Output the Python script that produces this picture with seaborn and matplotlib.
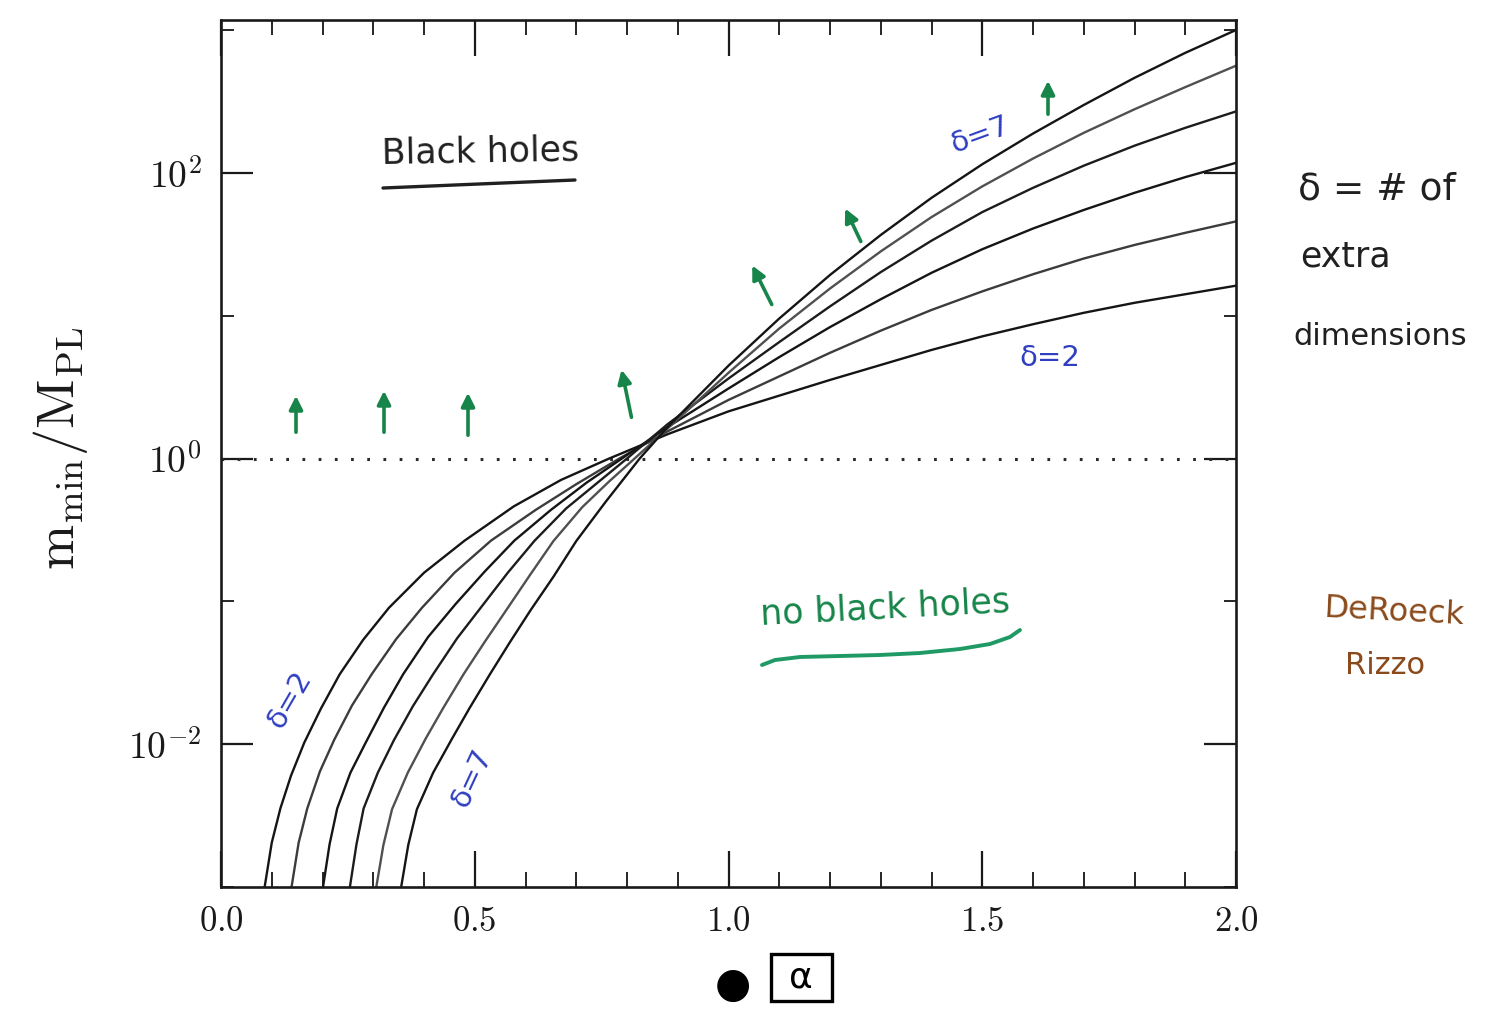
import matplotlib
matplotlib.use("Agg")
import matplotlib.pyplot as plt
import seaborn as sns
import pandas as pd
from matplotlib.patches import Rectangle
from matplotlib.ticker import FixedLocator, NullFormatter

# Minimum black-hole mass versus alpha, one curve per number of extra dimensions delta.
# Values are log10(m_min / M_PL).
alpha_d2 = [0.086, 0.100, 0.117, 0.138, 0.164, 0.197, 0.234, 0.280, 0.331, 0.400, 0.480, 0.577, 0.670,
            0.765, 0.880, 1.000, 1.100, 1.200, 1.300, 1.400, 1.500, 1.600, 1.700, 1.800, 1.900, 2.000]
log_m_d2 = [-3.00, -2.69, -2.45, -2.22, -1.99, -1.75, -1.51, -1.27, -1.045, -0.80, -0.575, -0.335, -0.15,
            0.00, 0.17, 0.33, 0.44, 0.55, 0.655, 0.76, 0.855, 0.94, 1.02, 1.09, 1.15, 1.21]

alpha_d3 = [0.139, 0.153, 0.170, 0.195, 0.223, 0.258, 0.297, 0.345, 0.396, 0.460, 0.532, 0.620, 0.700,
            0.785, 0.880, 1.000, 1.100, 1.200, 1.300, 1.400, 1.500, 1.600, 1.700, 1.800, 1.900, 2.000]
log_m_d3 = [-3.00, -2.69, -2.45, -2.19, -1.97, -1.73, -1.51, -1.265, -1.045, -0.80, -0.575, -0.36, -0.18,
            0.00, 0.19, 0.41, 0.575, 0.74, 0.895, 1.04, 1.17, 1.29, 1.40, 1.495, 1.58, 1.66]

alpha_d4 = [0.201, 0.214, 0.229, 0.255, 0.285, 0.321, 0.359, 0.408, 0.462, 0.520, 0.578, 0.650, 0.720,
            0.790, 0.880, 1.000, 1.100, 1.200, 1.300, 1.400, 1.500, 1.600, 1.700, 1.800, 1.900, 2.000]
log_m_d4 = [-3.00, -2.70, -2.45, -2.20, -1.99, -1.745, -1.51, -1.25, -1.02, -0.79, -0.575, -0.36, -0.17,
            0.00, 0.22, 0.49, 0.71, 0.92, 1.115, 1.30, 1.465, 1.61, 1.74, 1.86, 1.97, 2.07]

alpha_d5 = [0.254, 0.267, 0.281, 0.309, 0.341, 0.378, 0.418, 0.465, 0.515, 0.565, 0.618, 0.680, 0.740,
            0.800, 0.880, 1.000, 1.100, 1.200, 1.300, 1.400, 1.500, 1.600, 1.700, 1.800, 1.900, 2.000]
log_m_d5 = [-3.00, -2.70, -2.45, -2.20, -1.97, -1.735, -1.51, -1.26, -1.03, -0.80, -0.575, -0.35, -0.175,
            0.00, 0.24, 0.56, 0.815, 1.065, 1.305, 1.525, 1.725, 1.895, 2.05, 2.19, 2.315, 2.43]

alpha_d6 = [0.306, 0.320, 0.337, 0.368, 0.403, 0.438, 0.478, 0.520, 0.562, 0.608, 0.655, 0.712, 0.765,
            0.815, 0.880, 1.000, 1.100, 1.200, 1.300, 1.400, 1.500, 1.600, 1.700, 1.800, 1.900, 2.000]
log_m_d6 = [-3.00, -2.706, -2.456, -2.20, -1.963, -1.746, -1.51, -1.282, -1.062, -0.82, -0.578, -0.34, -0.16,
            0.00, 0.21, 0.60, 0.91, 1.19, 1.45, 1.69, 1.905, 2.10, 2.28, 2.445, 2.60, 2.75]

alpha_d7 = [0.355, 0.369, 0.386, 0.418, 0.455, 0.490, 0.530, 0.570, 0.610, 0.655, 0.700, 0.758,
            0.825, 0.880, 1.000, 1.100, 1.200, 1.300, 1.400, 1.500, 1.600, 1.700, 1.800, 1.900, 2.000]
log_m_d7 = [-3.00, -2.706, -2.456, -2.20, -1.963, -1.746, -1.51, -1.282, -1.062, -0.828, -0.578, -0.303,
            0.00, 0.22, 0.65, 0.98, 1.285, 1.565, 1.825, 2.06, 2.275, 2.475, 2.665, 2.84, 3.00]

deltas = [2, 3, 4, 5, 6, 7]
x_ticks = [0.0, 0.5, 1.0, 1.5, 2.0]
x_tick_labels = ["0.0", "0.5", "1.0", "1.5", "2.0"]
x_minor = [0.1, 0.2, 0.3, 0.4, 0.6, 0.7, 0.8, 0.9, 1.1, 1.2, 1.3, 1.4, 1.6, 1.7, 1.8, 1.9]
y_ticks = [1e-2, 1e0, 1e2]
y_tick_labels = [r"$10^{-2}$", r"$10^{0}$", r"$10^{2}$"]
y_minor = [1e-3, 1e-1, 1e1, 1e3]

curves = {2: (alpha_d2, log_m_d2), 3: (alpha_d3, log_m_d3), 4: (alpha_d4, log_m_d4),
          5: (alpha_d5, log_m_d5), 6: (alpha_d6, log_m_d6), 7: (alpha_d7, log_m_d7)}
rows = []
for d in deltas:
    a_vals, lm_vals = curves[d]
    for a, lm in zip(a_vals, lm_vals):
        rows.append({"alpha": a, "m": 10.0 ** lm, "delta": d})
df = pd.DataFrame(rows)

line_colors = {2: "#151515", 3: "#3c3c3c", 4: "#151515", 5: "#1c1c1c", 6: "#505050", 7: "#151515"}

sns.set_theme(style="white")
plt.rcParams["font.family"] = ["DejaVu Sans"]
plt.rcParams["mathtext.fontset"] = "cm"

W, H = 1488, 1011
fig = plt.figure(figsize=(W / 100, H / 100), dpi=100)
fig.patch.set_facecolor("white")
ax = fig.add_axes([221 / W, 1 - 887 / H, 1015 / W, 867 / H])

sns.lineplot(data=df, x="alpha", y="m", hue="delta", palette=line_colors,
             estimator=None, sort=False, linewidth=1.7, legend=False, ax=ax)
ax.axhline(1.0, color="#2a2a2a", linewidth=2.2, linestyle=(0, (0.9, 4.4)), zorder=1)

ax.set_yscale("log")
ax.set_xlim(0, 2)
ax.set_ylim(1e-3, 1175)

ax.set_xticks(x_ticks)
ax.set_xticklabels([f"${t}$" for t in x_tick_labels])
ax.xaxis.set_minor_locator(FixedLocator(x_minor))
ax.yaxis.set_major_locator(FixedLocator(y_ticks))
ax.set_yticklabels(y_tick_labels)
ax.yaxis.set_minor_locator(FixedLocator(y_minor))
ax.yaxis.set_minor_formatter(NullFormatter())

ax.tick_params(axis="x", which="major", direction="in", length=26, width=1.6,
               top=True, bottom=True, pad=12, labelsize=25, colors="#1a1a1a")
ax.tick_params(axis="x", which="minor", direction="in", length=11, width=1.4,
               top=True, bottom=True)
ax.tick_params(axis="y", which="major", direction="in", length=23, width=1.6,
               left=True, right=True, pad=14, labelsize=27, colors="#1a1a1a")
ax.tick_params(axis="y", which="minor", direction="in", length=9, width=1.4,
               left=True, right=True)
for s in ax.spines.values():
    s.set_linewidth(1.9)
    s.set_color("#1a1a1a")
    s.set_visible(True)

ax.set_xlabel("")
ax.set_ylabel(r"$\mathrm{m_{min}/M_{PL}}$", fontsize=39, color="#1a1a1a")
ax.yaxis.set_label_coords((90 - 221) / 1015, (887 - 448) / 867)


def fp(x, y):
    """Image pixel (from top-left) to figure fraction."""
    return (x / W, 1 - y / H)


green = "#17854a"
blue = "#2f3fc0"
brown = "#8a4a1c"

# region labels
fig.text(*fp(480, 152), "Black holes", fontsize=25, color="#202020", ha="center", va="center", rotation=1)
fig.add_artist(plt.Line2D([383 / W, 575 / W], [1 - 188 / H, 1 - 180 / H], color="#202020", lw=2.4))
fig.text(*fp(885, 608), "no black holes", fontsize=25, color=green, ha="center", va="center", rotation=3)
ux = [762, 775, 800, 840, 880, 920, 960, 990, 1010, 1020]
uy = [665, 660, 657, 656, 655, 653, 649, 644, 637, 630]
fig.add_artist(plt.Line2D([v / W for v in ux], [1 - v / H for v in uy],
                          color="#1f9a64", lw=2.8, solid_capstyle="round"))

# curve labels
fig.text(*fp(980, 135), "δ=7", fontsize=21, color=blue, ha="center", va="center", rotation=20)
fig.text(*fp(1050, 358), "δ=2", fontsize=21, color=blue, ha="center", va="center")
fig.text(*fp(290, 700), "δ=2", fontsize=21, color=blue, ha="center", va="center", rotation=60)
fig.text(*fp(472, 778), "δ=7", fontsize=21, color=blue, ha="center", va="center", rotation=65)

# arrows pointing into the black-hole region
arrows = [((296, 435), (296, 393)), ((384, 435), (384, 388)), ((468, 438), (468, 390)),
          ((632, 420), (621, 367)), ((773, 307), (751, 263)), ((862, 244), (844, 206)),
          ((1048, 117), (1048, 78))]
for (tx, ty), (hx, hy) in arrows:
    ax.annotate("", xy=(hx, H - hy), xycoords="figure pixels",
                xytext=(tx, H - ty), textcoords="figure pixels",
                arrowprops=dict(arrowstyle="-|>", color=green, lw=2.6, mutation_scale=20))

# side notes
fig.text(*fp(1298, 190), "δ = # of", fontsize=27, color="#202020", ha="left", va="center")
fig.text(*fp(1300, 257), "extra", fontsize=25, color="#202020", ha="left", va="center")
fig.text(*fp(1293, 337), "dimensions", fontsize=22, color="#202020", ha="left", va="center")
fig.text(*fp(1395, 612), "DeRoeck", fontsize=23, color=brown, ha="center", va="center", rotation=-3)
fig.text(*fp(1385, 665), "Rizzo", fontsize=22, color=brown, ha="center", va="center")

# axis symbol
fig.text(*fp(733, 985), "●", fontsize=30, color="black", ha="center", va="center")
fig.add_artist(Rectangle((771 / W, 1 - 1001 / H), 61 / W, 47 / H, transform=fig.transFigure,
                         fill=False, edgecolor="black", lw=2.4))
fig.text(*fp(801, 977), "α", fontsize=26, color="black", ha="center", va="center")

fig.savefig("out.png", dpi=100, facecolor="white")
